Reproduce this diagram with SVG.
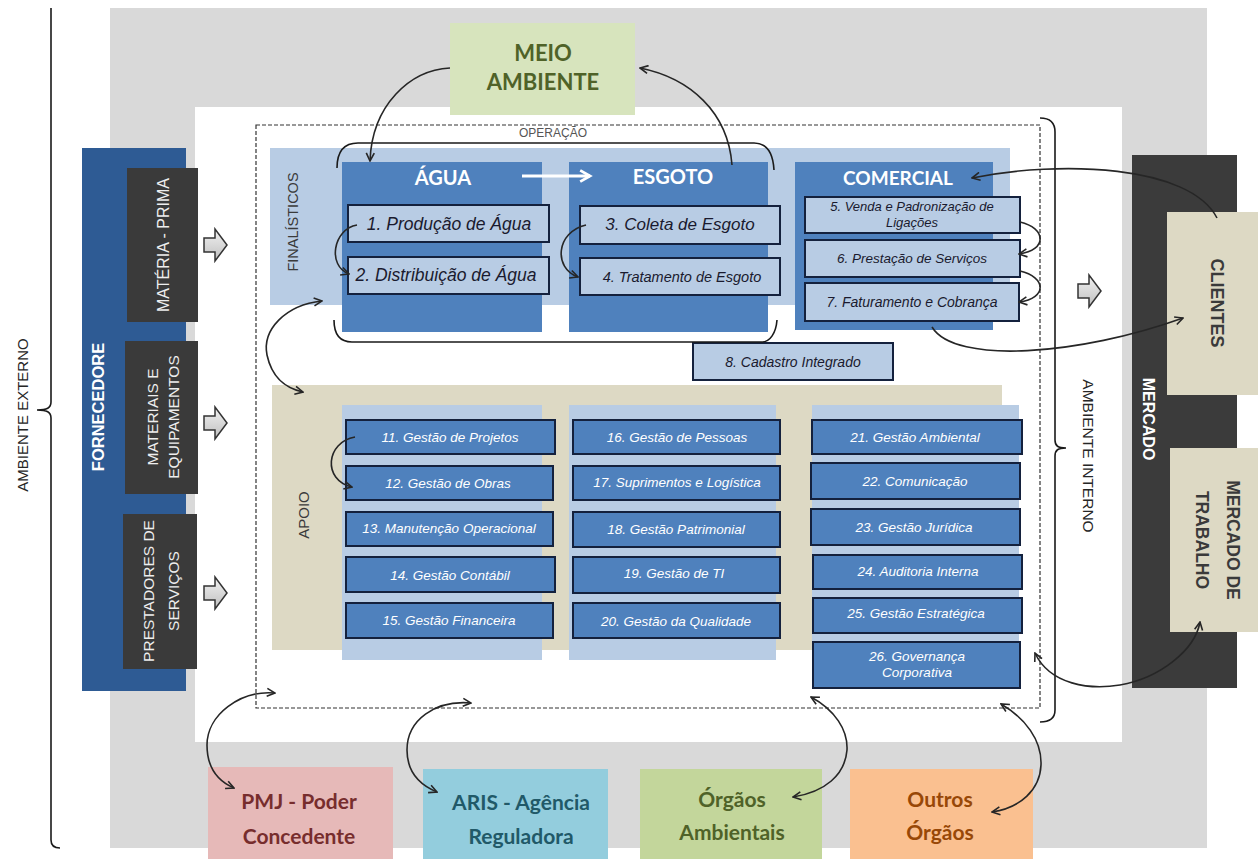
<svg xmlns="http://www.w3.org/2000/svg" width="1258" height="859" viewBox="0 0 1258 859">
<defs>
<style>
.ttl{font-family:Lato,"Open Sans","Liberation Sans",sans-serif;font-weight:bold;text-anchor:middle;dominant-baseline:central}
.lbl{font-family:"Liberation Sans",Arial,sans-serif;text-anchor:middle;dominant-baseline:central}
.pb{fill:#b8cce4;stroke:#14213d;stroke-width:2}
.ab{fill:#4f81bd;stroke:#14213d;stroke-width:2}
.pt{font-family:"Liberation Sans",Arial,sans-serif;font-style:italic;fill:#1a1a2e;text-anchor:middle;dominant-baseline:central}
.at{font-family:"Liberation Sans",Arial,sans-serif;font-style:italic;fill:#ffffff;text-anchor:middle;dominant-baseline:central;font-size:13.5px}
.cn{fill:none;stroke:#262626;stroke-width:1.6}
.br{fill:none;stroke:#1a1a1a;stroke-width:1.6}
.blk{fill:url(#gg);stroke:#333;stroke-width:1.5}
</style>
<linearGradient id="gg" x1="0" y1="0" x2="0" y2="1"><stop offset="0" stop-color="#f2f2f2"/><stop offset="1" stop-color="#bfbfbf"/></linearGradient>
<marker id="ah" viewBox="0 0 10 10" refX="9" refY="5" markerWidth="10" markerHeight="10" markerUnits="userSpaceOnUse" orient="auto-start-reverse"><path d="M1,1 L9,5 L1,9" fill="none" stroke="#262626" stroke-width="1.6"/></marker>
<marker id="wh" viewBox="0 0 10 10" refX="8" refY="5" markerWidth="14" markerHeight="14" markerUnits="userSpaceOnUse" orient="auto"><path d="M1,1 L8,5 L1,9" fill="none" stroke="#ffffff" stroke-width="2"/></marker>
<path id="blkarrow" d="M0,-7 H11 V-16 L23,0 L11,16 V7 H0 Z"/>
</defs>

<rect width="1258" height="859" fill="#ffffff"/>
<rect x="110" y="8" width="1097" height="840" fill="#d9d9d9"/>
<rect x="195" y="107" width="927" height="635" fill="#ffffff"/>

<g id="ambiente-externo">
<path class="br" d="M51,8 V402 C51,408 47,410 37,410 C47,410 51,412 51,418 V840 C51,846 54,848 60,848"/>
<text class="lbl" font-size="15" fill="#262626" transform="translate(22,415) rotate(-90)">AMBIENTE EXTERNO</text>
</g>

<g id="fornecedore">
<rect x="82" y="148" width="104" height="543" fill="#2e5b94"/>
<text class="lbl" font-size="16.5" font-weight="bold" fill="#ffffff" transform="translate(98,407) rotate(-90)">FORNECEDORE</text>
</g>
<g id="materia-prima">
<rect x="127" y="168" width="71" height="154" fill="#3a3a3a"/>
<text class="lbl" font-size="16" fill="#eeeeee" transform="translate(163,245) rotate(-90)">MATÉRIA - PRIMA</text>
</g>
<g id="materiais">
<rect x="125" y="341" width="73" height="153" fill="#3a3a3a"/>
<text class="lbl" font-size="15.5" fill="#eeeeee" transform="translate(152,417) rotate(-90)">MATERIAIS E</text>
<text class="lbl" font-size="15.5" fill="#eeeeee" transform="translate(173,417) rotate(-90)">EQUIPAMENTOS</text>
</g>
<g id="prestadores">
<rect x="123" y="514" width="74" height="155" fill="#3a3a3a"/>
<text class="lbl" font-size="15.5" fill="#eeeeee" transform="translate(148,591) rotate(-90)">PRESTADORES DE</text>
<text class="lbl" font-size="15.5" fill="#eeeeee" transform="translate(173,591) rotate(-90)">SERVIÇOS</text>
</g>

<g id="block-arrows">
<use href="#blkarrow" class="blk" x="204" y="245"/>
<use href="#blkarrow" class="blk" x="204" y="423"/>
<use href="#blkarrow" class="blk" x="204" y="593"/>
<use href="#blkarrow" class="blk" x="1078" y="291"/>
</g>

<g id="operacao">
<rect x="256" y="125" width="784" height="583" fill="none" stroke="#333" stroke-width="1.2" stroke-dasharray="4,2"/>
<text class="lbl" font-size="12" fill="#555" x="553" y="133">OPERAÇÃO</text>
</g>

<g id="finalisticos">
<rect x="270" y="148" width="740" height="157" fill="#b8cce4"/>
<text class="lbl" font-size="14.5" fill="#3a3a3a" transform="translate(293,222) rotate(-90)">FINALÍSTICOS</text>
</g>

<g id="agua">
<rect x="342" y="162" width="200" height="170" fill="#4f81bd"/>
<text class="ttl" font-size="20" fill="#ffffff" x="443" y="177">ÁGUA</text>
</g>
<g id="esgoto">
<rect x="569" y="162" width="199" height="170" fill="#4f81bd"/>
<text class="ttl" font-size="20" fill="#ffffff" x="673" y="176">ESGOTO</text>
</g>
<g id="comercial">
<rect x="795" y="162" width="198" height="168" fill="#4f81bd"/>
<text class="ttl" font-size="19" fill="#ffffff" x="898" y="177">COMERCIAL</text>
</g>

<g id="p1"><rect class="pb" x="348" y="205" width="201" height="37"/><text class="pt" font-size="17.5" x="449" y="224">1. Produção de Água</text></g>
<g id="p2"><rect class="pb" x="348" y="257" width="201" height="37"/><text class="pt" font-size="17.5" x="446" y="275">2. Distribuição de Água</text></g>
<g id="p3"><rect class="pb" x="580" y="206" width="200" height="38"/><text class="pt" font-size="17" x="680" y="224">3. Coleta de Esgoto</text></g>
<g id="p4"><rect class="pb" x="580" y="258" width="200" height="37"/><text class="pt" font-size="14.5" x="682" y="277">4. Tratamento de Esgoto</text></g>
<g id="p5"><rect class="pb" x="805" y="197" width="215" height="36"/><text class="pt" font-size="13" x="912" y="206">5. Venda e Padronização de</text><text class="pt" font-size="13" x="912" y="222">Ligações</text></g>
<g id="p6"><rect class="pb" x="805" y="240" width="215" height="37"/><text class="pt" font-size="13.5" x="912" y="258">6. Prestação  de Serviços</text></g>
<g id="p7"><rect class="pb" x="805" y="283" width="214" height="38"/><text class="pt" font-size="14" x="912" y="302">7. Faturamento e Cobrança</text></g>
<g id="p8"><rect class="pb" x="693" y="343" width="200" height="37"/><text class="pt" font-size="14" x="793" y="362">8. Cadastro Integrado</text></g>

<g id="apoio">
<rect x="272" y="385" width="730" height="265" fill="#ddd9c4"/>
<text class="lbl" font-size="15" fill="#3a3a3a" transform="translate(303,515) rotate(-90)">APOIO</text>
<rect x="342" y="405" width="200" height="255" fill="#b8cce4"/>
<rect x="569" y="405" width="207" height="255" fill="#b8cce4"/>
<rect x="812" y="405" width="207" height="240" fill="#b8cce4"/>
</g>

<g id="a11"><rect class="ab" x="346" y="420" width="209" height="34"/><text class="at" x="450" y="437">11. Gestão de Projetos</text></g>
<g id="a12"><rect class="ab" x="346" y="466" width="207" height="34"/><text class="at" font-style="normal" font-size="17" x="448" y="483">12. Gestão de Obras</text></g>
<g id="a13"><rect class="ab" x="346" y="512" width="207" height="34"/><text class="at" x="449" y="528">13. Manutenção Operacional</text></g>
<g id="a14"><rect class="ab" x="346" y="557" width="209" height="35"/><text class="at" x="450" y="575">14. Gestão Contábil</text></g>
<g id="a15"><rect class="ab" x="346" y="603" width="207" height="35"/><text class="at" x="449" y="620">15. Gestão Financeira</text></g>
<g id="a16"><rect class="ab" x="573" y="420" width="207" height="34"/><text class="at" x="677" y="437">16. Gestão de Pessoas</text></g>
<g id="a17"><rect class="ab" x="573" y="466" width="207" height="34"/><text class="at" x="677" y="482">17. Suprimentos e Logística</text></g>
<g id="a18"><rect class="ab" x="573" y="512" width="207" height="35"/><text class="at" x="676" y="529">18. Gestão Patrimonial</text></g>
<g id="a19"><rect class="ab" x="573" y="557" width="207" height="36"/><text class="at" x="674" y="573">19. Gestão de TI</text></g>
<g id="a20"><rect class="ab" x="573" y="603" width="207" height="35"/><text class="at" x="676" y="621">20. Gestão da Qualidade</text></g>
<g id="a21"><rect class="ab" x="812" y="420" width="210" height="34"/><text class="at" x="915" y="437">21. Gestão Ambiental</text></g>
<g id="a22"><rect class="ab" x="811" y="463" width="209" height="36"/><text class="at" x="915" y="481">22. Comunicação</text></g>
<g id="a23"><rect class="ab" x="811" y="509" width="209" height="36"/><text class="at" x="914" y="527">23. Gestão Jurídica</text></g>
<g id="a24"><rect class="ab" x="813" y="555" width="209" height="34"/><text class="at" x="918" y="571">24. Auditoria Interna</text></g>
<g id="a25"><rect class="ab" x="813" y="598" width="209" height="35"/><text class="at" x="916" y="613">25. Gestão Estratégica</text></g>
<g id="a26"><rect class="ab" x="813" y="642" width="207" height="46"/><text class="at" x="917" y="656">26. Governança</text><text class="at" x="917" y="672">Corporativa</text></g>

<g id="ambiente-interno">
<path class="br" d="M1040,118 C1050,118 1055,122 1055,132 V440 C1055,446 1058,448 1066,448 C1058,448 1055,450 1055,456 V710 C1055,718 1050,722 1040,722"/>
<text class="lbl" font-size="15.5" fill="#262626" transform="translate(1088,456) rotate(90)">AMBIENTE INTERNO</text>
</g>

<g id="mercado">
<rect x="1132" y="155" width="105" height="533" fill="#3b3b3b"/>
<text class="lbl" font-size="16" font-weight="bold" fill="#ffffff" transform="translate(1148,419) rotate(90)">MERCADO</text>
</g>
<g id="clientes">
<rect x="1167" y="212" width="91" height="183" fill="#ddd9c4"/>
<text class="lbl" font-size="18" font-weight="bold" fill="#3a3a3a" transform="translate(1217,303) rotate(90)">CLIENTES</text>
</g>
<g id="mercado-trabalho">
<rect x="1170" y="448" width="88" height="184" fill="#ddd9c4"/>
<text class="lbl" font-size="17.5" font-weight="bold" fill="#3a3a3a" transform="translate(1233,540) rotate(90)">MERCADO DE</text>
<text class="lbl" font-size="17.5" font-weight="bold" fill="#3a3a3a" transform="translate(1202,540) rotate(90)">TRABALHO</text>
</g>

<g id="meio-ambiente">
<rect x="450" y="23" width="185" height="92" fill="#d7e4bd"/>
<text class="ttl" font-size="22" fill="#4f6228" x="543" y="52">MEIO</text>
<text class="ttl" font-size="22" fill="#4f6228" x="543" y="81">AMBIENTE</text>
</g>

<g id="pmj">
<rect x="208" y="767" width="185" height="92" fill="#e6b9b8"/>
<text class="ttl" font-size="21" fill="#772d2d" x="299" y="800">PMJ - Poder</text>
<text class="ttl" font-size="21" fill="#772d2d" x="299" y="835">Concedente</text>
</g>
<g id="aris">
<rect x="423" y="769" width="185" height="90" fill="#93cddd"/>
<text class="ttl" font-size="21" fill="#215968" x="521" y="801">ARIS - Agência</text>
<text class="ttl" font-size="21" fill="#215968" x="521" y="835">Reguladora</text>
</g>
<g id="orgaos-ambientais">
<rect x="640" y="769" width="182" height="90" fill="#c3d69b"/>
<text class="ttl" font-size="21" fill="#4f6228" x="732" y="798">Órgãos</text>
<text class="ttl" font-size="21" fill="#4f6228" x="732" y="831">Ambientais</text>
</g>
<g id="outros-orgaos">
<rect x="850" y="769" width="183" height="90" fill="#fac090"/>
<text class="ttl" font-size="21" fill="#984807" x="940" y="798">Outros</text>
<text class="ttl" font-size="21" fill="#984807" x="940" y="831">Órgãos</text>
</g>

<g id="connectors">
<path class="br" d="M337,168 C337,152 344,143 358,143 H754 C766,143 773,152 774,170"/>
<path class="br" d="M334,320 C334,334 340,342 352,342 H762 C770,342 776,333 777,320"/>
<path d="M522,176 H590" stroke="#ffffff" stroke-width="3" fill="none" marker-end="url(#wh)"/>
<path class="cn" d="M450,68 C410,70 372,105 370,161" marker-end="url(#ah)"/>
<path class="cn" d="M732,165 C728,112 690,78 640,68" marker-end="url(#ah)"/>
<path class="cn" d="M357,225 C333,229 327,266 349,274" marker-end="url(#ah)"/>
<path class="cn" d="M586,225 C556,232 553,268 578,277" marker-end="url(#ah)"/>
<path class="cn" d="M1020,222 C1046,228 1048,250 1019,254" marker-end="url(#ah)"/>
<path class="cn" d="M1020,271 C1046,277 1048,298 1019,302" marker-end="url(#ah)"/>
<path class="cn" d="M1217,218 C1190,165 1060,160 972,178" marker-end="url(#ah)"/>
<path class="cn" d="M932,327 C955,365 1080,355 1183,318" marker-end="url(#ah)"/>
<path class="cn" d="M322,301 C285,305 262,330 267,355 C272,378 285,388 303,392" marker-start="url(#ah)" marker-end="url(#ah)"/>
<path class="cn" d="M355,437 C326,442 322,480 352,487" marker-end="url(#ah)"/>
<path class="cn" d="M275,693 C240,690 207,715 207,745 C207,770 220,782 234,788" marker-start="url(#ah)" marker-end="url(#ah)"/>
<path class="cn" d="M471,703 C435,700 407,720 407,750 C407,772 420,785 437,792" marker-start="url(#ah)" marker-end="url(#ah)"/>
<path class="cn" d="M811,697 C835,710 848,730 847,750 C845,775 825,792 793,797" marker-start="url(#ah)" marker-end="url(#ah)"/>
<path class="cn" d="M1001,704 C1025,718 1042,740 1041,765 C1040,790 1020,808 992,812" marker-start="url(#ah)" marker-end="url(#ah)"/>
<path class="cn" d="M1035,653 C1050,685 1090,690 1120,685 C1160,678 1195,650 1200,622" marker-start="url(#ah)" marker-end="url(#ah)"/>
</g>
</svg>
